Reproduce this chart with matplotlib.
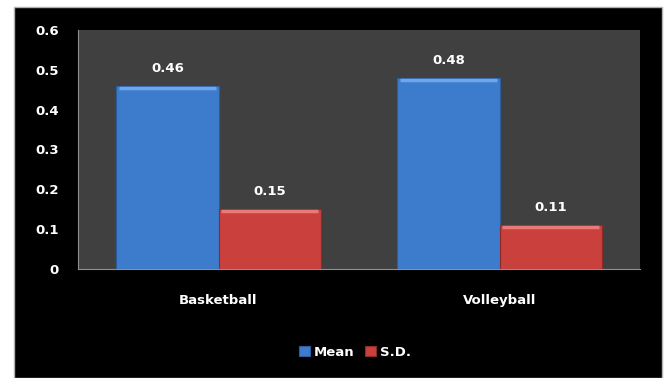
import matplotlib
matplotlib.use("Agg")
import matplotlib.pyplot as plt
from matplotlib.patches import Rectangle
import numpy as np

categories = ["Basketball", "Volleyball"]
mean_values = [0.46, 0.48]
sd_values = [0.15, 0.11]
series_names = ["Mean", "S.D."]

blue = "#3d7ccc"
red = "#c9403d"

fig = plt.figure(figsize=(6.68, 3.78), dpi=100)
fig.patch.set_facecolor("white")

# black chart frame (behind the axes)
frame = Rectangle((14 / 668, 0), 648 / 668, 371 / 378, transform=fig.transFigure,
                  facecolor="black", edgecolor="#b0b0b0", linewidth=1.0, zorder=-5)
fig.patches.append(frame)

ax = fig.add_axes([78 / 668, 109 / 378, 562 / 668, 239 / 378])
ax.set_facecolor("#404040")

x = np.arange(len(categories))
w = 0.363
b1 = ax.bar(x - w / 2, mean_values, w, color=blue, edgecolor="#2c5e9e", linewidth=0.8, label=series_names[0])
b2 = ax.bar(x + w / 2, sd_values, w, color=red, edgecolor="#8e2a28", linewidth=0.8, label=series_names[1])

# light bevel at the top of each bar
for bars, hi in ((b1, "#6ea6ec"), (b2, "#ea7a77")):
    for r in bars:
        ax.plot([r.get_x() + 0.01, r.get_x() + r.get_width() - 0.01],
                [r.get_height() - 0.005] * 2, color=hi, lw=2.5, solid_capstyle="butt")

for bars in (b1, b2):
    for r in bars:
        ax.annotate(f"{r.get_height():.2f}", (r.get_x() + r.get_width() / 2, r.get_height()),
                    xytext=(0, 8), textcoords="offset points", ha="center", va="bottom",
                    color="white", fontsize=9.5, fontweight="bold")

ax.set_xlim(-0.5, 1.5)
ax.set_ylim(0, 0.6)
ax.set_yticks(np.arange(0, 0.61, 0.1))
ax.set_yticklabels(["0", "0.1", "0.2", "0.3", "0.4", "0.5", "0.6"])
ax.set_xticks(x)
ax.set_xticklabels(categories)
ax.tick_params(axis="both", length=0, colors="white", labelsize=9.5)
ax.tick_params(axis="y", pad=14)
ax.tick_params(axis="x", pad=18)
for lab in ax.get_xticklabels() + ax.get_yticklabels():
    lab.set_fontweight("bold")

for s in ("top", "right"):
    ax.spines[s].set_visible(False)
ax.spines["left"].set_color("#909090")
ax.spines["bottom"].set_color("#909090")

leg = fig.legend(handles=[b1, b2], labels=series_names, loc="center", bbox_to_anchor=(355 / 668, 1 - 352 / 378),
                 ncol=2, frameon=False, handlelength=0.8, handleheight=0.8, handletextpad=0.3,
                 columnspacing=0.8, fontsize=9.5)
for t in leg.get_texts():
    t.set_color("white")
    t.set_fontweight("bold")

fig.savefig("out.png", dpi=100, facecolor=fig.get_facecolor())
